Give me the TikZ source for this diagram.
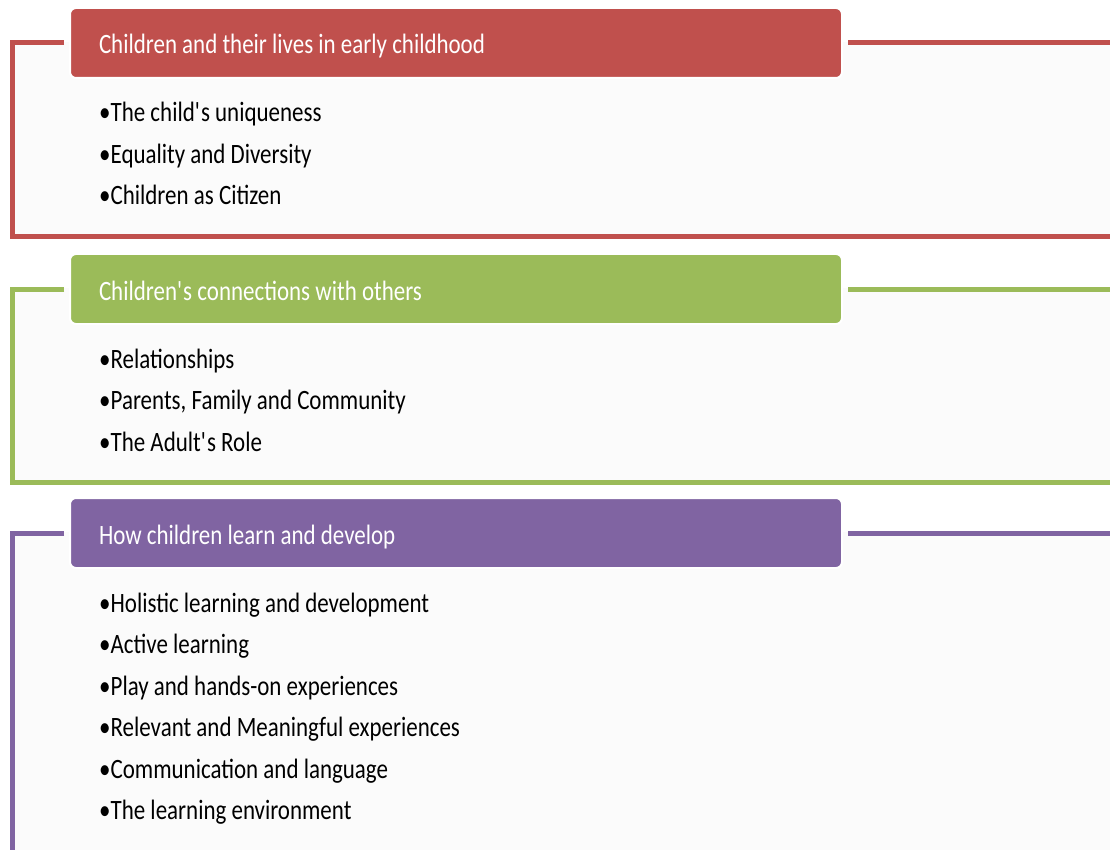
\documentclass[tikz,border=0pt]{standalone}
\usepackage{fontspec}
\setmainfont[FakeStretch=0.82]{Carlito}
\usetikzlibrary{calc,positioning,backgrounds}
\definecolor{redtube}{HTML}{C0504D}
\definecolor{greentube}{HTML}{9BBB59}
\definecolor{purpletube}{HTML}{8064A2}
\definecolor{panelgray}{HTML}{FBFBFB}
\newcommand{\thickness}{5pt}
\newcommand{\gap}{5pt}
\newcommand{\edge}{1110}
\newcommand{\q}{\textquotesingle}

\tikzset{
  head/.style={anchor=north west, rounded corners=6pt, draw=white, line width=2pt,
    minimum width=772pt, minimum height=70pt, text width=714pt, inner xsep=29pt,
    inner ysep=0pt, text height=28pt, text depth=6pt, align=flush left, text=white,
    font=\fontsize{28}{34}\selectfont},
  item/.style={anchor=base west, inner sep=0pt, font=\fontsize{28}{34}\selectfont},
  frame/.style={line width=\thickness}
}

\begin{document}
\begin{tikzpicture}[x=1pt,y=-1pt]
\useasboundingbox[fill=white] (0,0) rectangle (1110,850);
%red
\fill[panelgray] (12,42) rectangle (\edge,237);
\coordinate (c1) at (12,237);
\coordinate (d1) at (\edge,237);
\node[head, fill=redtube] (h1) at (69,7) {Children and their lives in early childhood};
\draw[frame, redtube] ([xshift=-\gap]h1.west) -| (c1) -- (d1);
\draw[frame, redtube] ([xshift=\gap]h1.east) -- (d1 |- h1.east);
\node[item] (r1) at (99,122) {•The child\q s uniqueness};
\node[item] (r2) at (99,163.5) {•Equality and Diversity};
\node[item] (r3) at (99,205) {•Children as Citizen};
%green
\fill[panelgray] (12,288) rectangle (\edge,482);
\coordinate (c2) at (12,482);
\coordinate (d2) at (\edge,482);
\node[head, fill=greentube] (h2) at (69,253) {Children\q s connections with others};
\draw[frame, greentube] ([xshift=-\gap]h2.west) -| (c2) -- (d2);
\draw[frame, greentube] ([xshift=\gap]h2.east) -- (d2 |- h2.east);
\node[item] (g1) at (99,368) {•Relationships};
\node[item] (g2) at (99,409.5) {•Parents, Family and Community};
\node[item] (g3) at (99,451) {•The Adult\q s Role};
%purple
\fill[panelgray] (12,532) rectangle (\edge,850);
\coordinate (c3) at (12,852);
\coordinate (d3) at (\edge,852);
\node[head, fill=purpletube] (h3) at (69,497) {How children learn and develop};
\draw[frame, purpletube] ([xshift=-\gap]h3.west) -| (c3);
\draw[frame, purpletube] ([xshift=\gap]h3.east) -- (d3 |- h3.east);
\node[item] (p1) at (99,612) {•Holistic learning and development};
\node[item] (p2) at (99,653.5) {•Active learning};
\node[item] (p3) at (99,695) {•Play and hands-on experiences};
\node[item] (p4) at (99,736.5) {•Relevant and Meaningful experiences};
\node[item] (p5) at (99,778) {•Communication and language};
\node[item] (p6) at (99,819.5) {•The learning environment};
\end{tikzpicture}
\end{document}
